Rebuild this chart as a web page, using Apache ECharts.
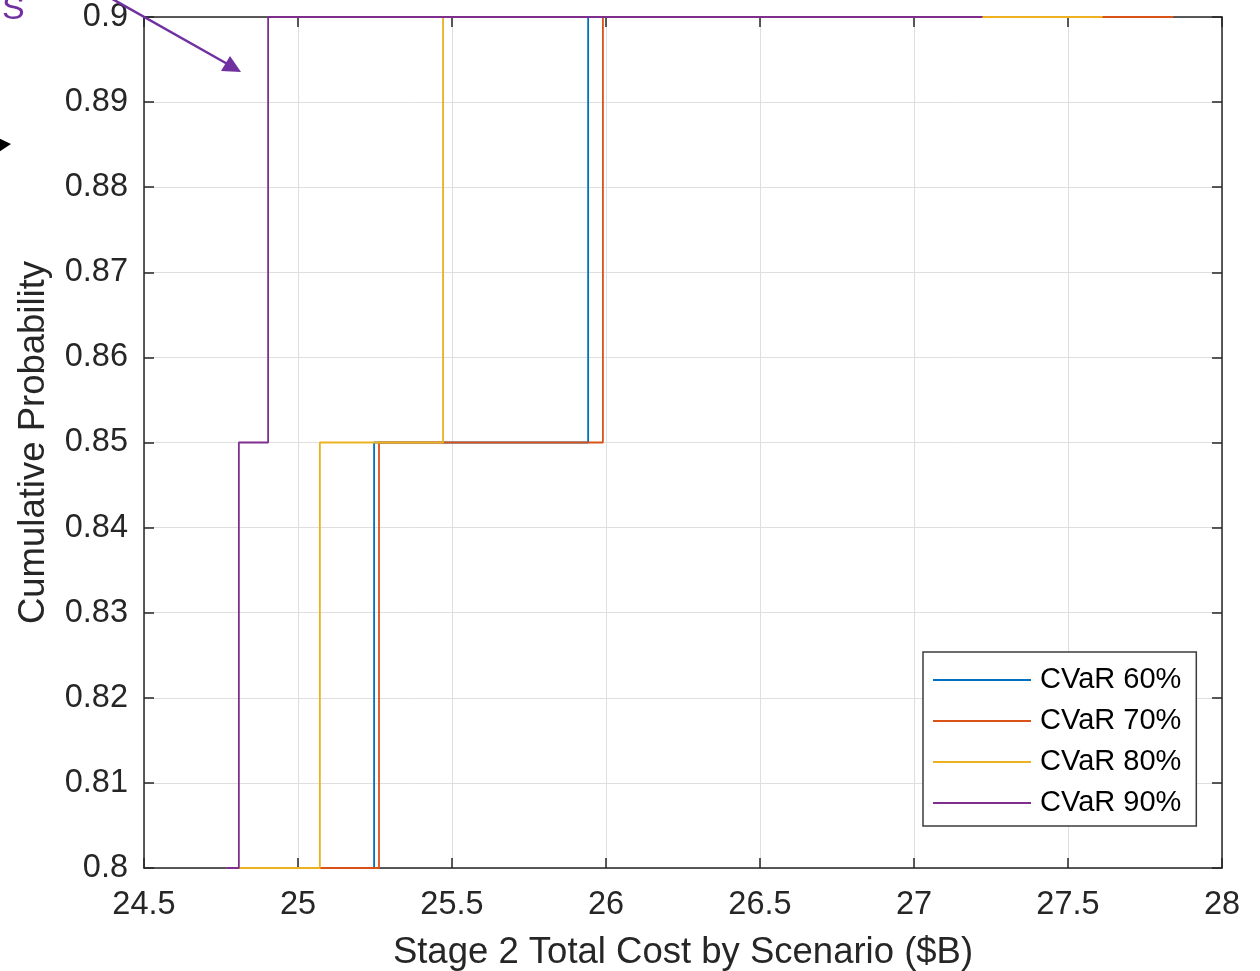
<!DOCTYPE html>
<html>
<head>
<meta charset="utf-8">
<title>Stage 2 Total Cost CDF</title>
<script src="https://cdn.jsdelivr.net/npm/echarts@6/dist/echarts.min.js"></script>
<style>
  html, body { margin: 0; padding: 0; background: #ffffff; }
  #chart { width: 1260px; height: 971px; }
</style>
</head>
<body>
<div id="chart"></div>
<script>
// Empirical CDF steps: [cost ($B), cumulative probability] for each CVaR level
const seriesNames = ['CVaR 60%', 'CVaR 70%', 'CVaR 80%', 'CVaR 90%'];
const cvar60 = [[24.60, 0.75], [25.07, 0.80], [25.247, 0.85], [25.942, 0.90], [27.75, 0.95]];
const cvar70 = [[24.60, 0.75], [24.85, 0.80], [25.263, 0.85], [25.990, 0.90], [27.84, 0.95]];
const cvar80 = [[24.60, 0.75], [24.77, 0.80], [25.071, 0.85], [25.471, 0.90], [27.61, 0.95]];
const cvar90 = [[24.60, 0.75], [24.77, 0.80], [24.808, 0.85], [24.903, 0.90], [27.22, 0.95]];
const seriesData = [cvar60, cvar70, cvar80, cvar90];
const seriesColors = ['#0072BD', '#D95319', '#EDB120', '#7E2F8E'];

const xTickLabels = ['24.5', '25', '25.5', '26', '26.5', '27', '27.5', '28'];
const yTickLabels = ['0.8', '0.81', '0.82', '0.83', '0.84', '0.85', '0.86', '0.87', '0.88', '0.89', '0.9'];

const FONT = '"Liberation Sans", Arial, Helvetica, sans-serif';
const AXIS_COLOR = '#262626';

const chart = echarts.init(document.getElementById('chart'), null, { renderer: 'canvas' });

function tickText(labels, min, step) {
  return function (v) {
    const i = Math.round((v - min) / step);
    return labels[i] !== undefined ? labels[i] : '';
  };
}

const xMin = 24.5, xMax = 28, xStep = 0.5;
const yMin = 0.8, yMax = 0.9, yStep = 0.01;

const boxAxisCommon = {
  axisLine: { show: true, onZero: false, lineStyle: { color: AXIS_COLOR, width: 1.5 } },
  axisTick: { show: true, inside: true, length: 10, lineStyle: { color: AXIS_COLOR, width: 1.5 } }
};

const option = {
  animation: false,
  backgroundColor: '#ffffff',
  grid: { left: 144, right: 38, top: 17, bottom: 103, containLabel: false, outerBoundsMode: 'none' },
  xAxis: [
    Object.assign({
      type: 'value', position: 'bottom', min: xMin, max: xMax, interval: xStep,
      name: 'Stage 2 Total Cost by Scenario ($B)',
      nameLocation: 'middle', nameGap: 66,
      nameTextStyle: { fontFamily: FONT, fontSize: 36.5, color: AXIS_COLOR },
      axisLabel: { formatter: tickText(xTickLabels, xMin, xStep), fontFamily: FONT, fontSize: 32.5, color: AXIS_COLOR, margin: 21 },
      splitLine: { show: true, lineStyle: { color: '#dfdfdf', width: 1 } }
    }, boxAxisCommon),
    Object.assign({
      type: 'value', position: 'top', min: xMin, max: xMax, interval: xStep,
      axisLabel: { show: false }, splitLine: { show: false }
    }, boxAxisCommon)
  ],
  yAxis: [
    Object.assign({
      type: 'value', position: 'left', min: yMin, max: yMax, interval: yStep,
      name: 'Cumulative Probability',
      nameLocation: 'middle', nameGap: 92,
      nameTextStyle: { fontFamily: FONT, fontSize: 36.5, color: AXIS_COLOR },
      axisLabel: { formatter: tickText(yTickLabels, yMin, yStep), fontFamily: FONT, fontSize: 32.5, color: AXIS_COLOR, margin: 16, padding: [4, 0, 0, 0] },
      splitLine: { show: true, lineStyle: { color: '#dfdfdf', width: 1 } }
    }, boxAxisCommon),
    Object.assign({
      type: 'value', position: 'right', min: yMin, max: yMax, interval: yStep,
      axisLabel: { show: false }, splitLine: { show: false }
    }, boxAxisCommon)
  ],
  legend: {
    orient: 'vertical',
    left: 923, top: 652,
    padding: [13, 15, 8, 10],
    icon: 'rect',
    itemWidth: 98, itemHeight: 1.8, itemGap: 11,
    backgroundColor: '#ffffff',
    borderColor: '#3c3c3c', borderWidth: 1.5, borderRadius: 0,
    textStyle: { fontFamily: FONT, fontSize: 29, lineHeight: 30, color: '#000000', padding: [0, 0, 0, 4] },
    data: seriesNames
  },
  series: seriesData.map(function (d, i) {
    return {
      name: seriesNames[i],
      type: 'line',
      step: 'end',
      data: d,
      symbol: 'none',
      showSymbol: false,
      clip: true,
      color: seriesColors[i],
      lineStyle: { color: seriesColors[i], width: 1.8 },
      z: 2 + i
    };
  }),
  graphic: [
    // purple annotation arrow entering the axes from the top-left corner
    { type: 'line', shape: { x1: 100, y1: -8, x2: 231, y2: 66 }, style: { stroke: '#7030A0', lineWidth: 2.5 }, z: 100 },
    { type: 'polygon', shape: { points: [[241, 72], [221, 71], [230, 56]] }, style: { fill: '#7030A0' }, z: 100 },
    { type: 'text', style: { x: 2, y: 27, text: 'S', fontSize: 34, fontFamily: FONT, fill: '#7030A0', verticalAlign: 'bottom', align: 'left' }, z: 100 },
    // black arrow head at the left margin
    { type: 'polygon', shape: { points: [[-4, 137], [11, 144], [-1, 152]] }, style: { fill: '#000000' }, z: 100 }
  ]
};

chart.setOption(option);
</script>
</body>
</html>
